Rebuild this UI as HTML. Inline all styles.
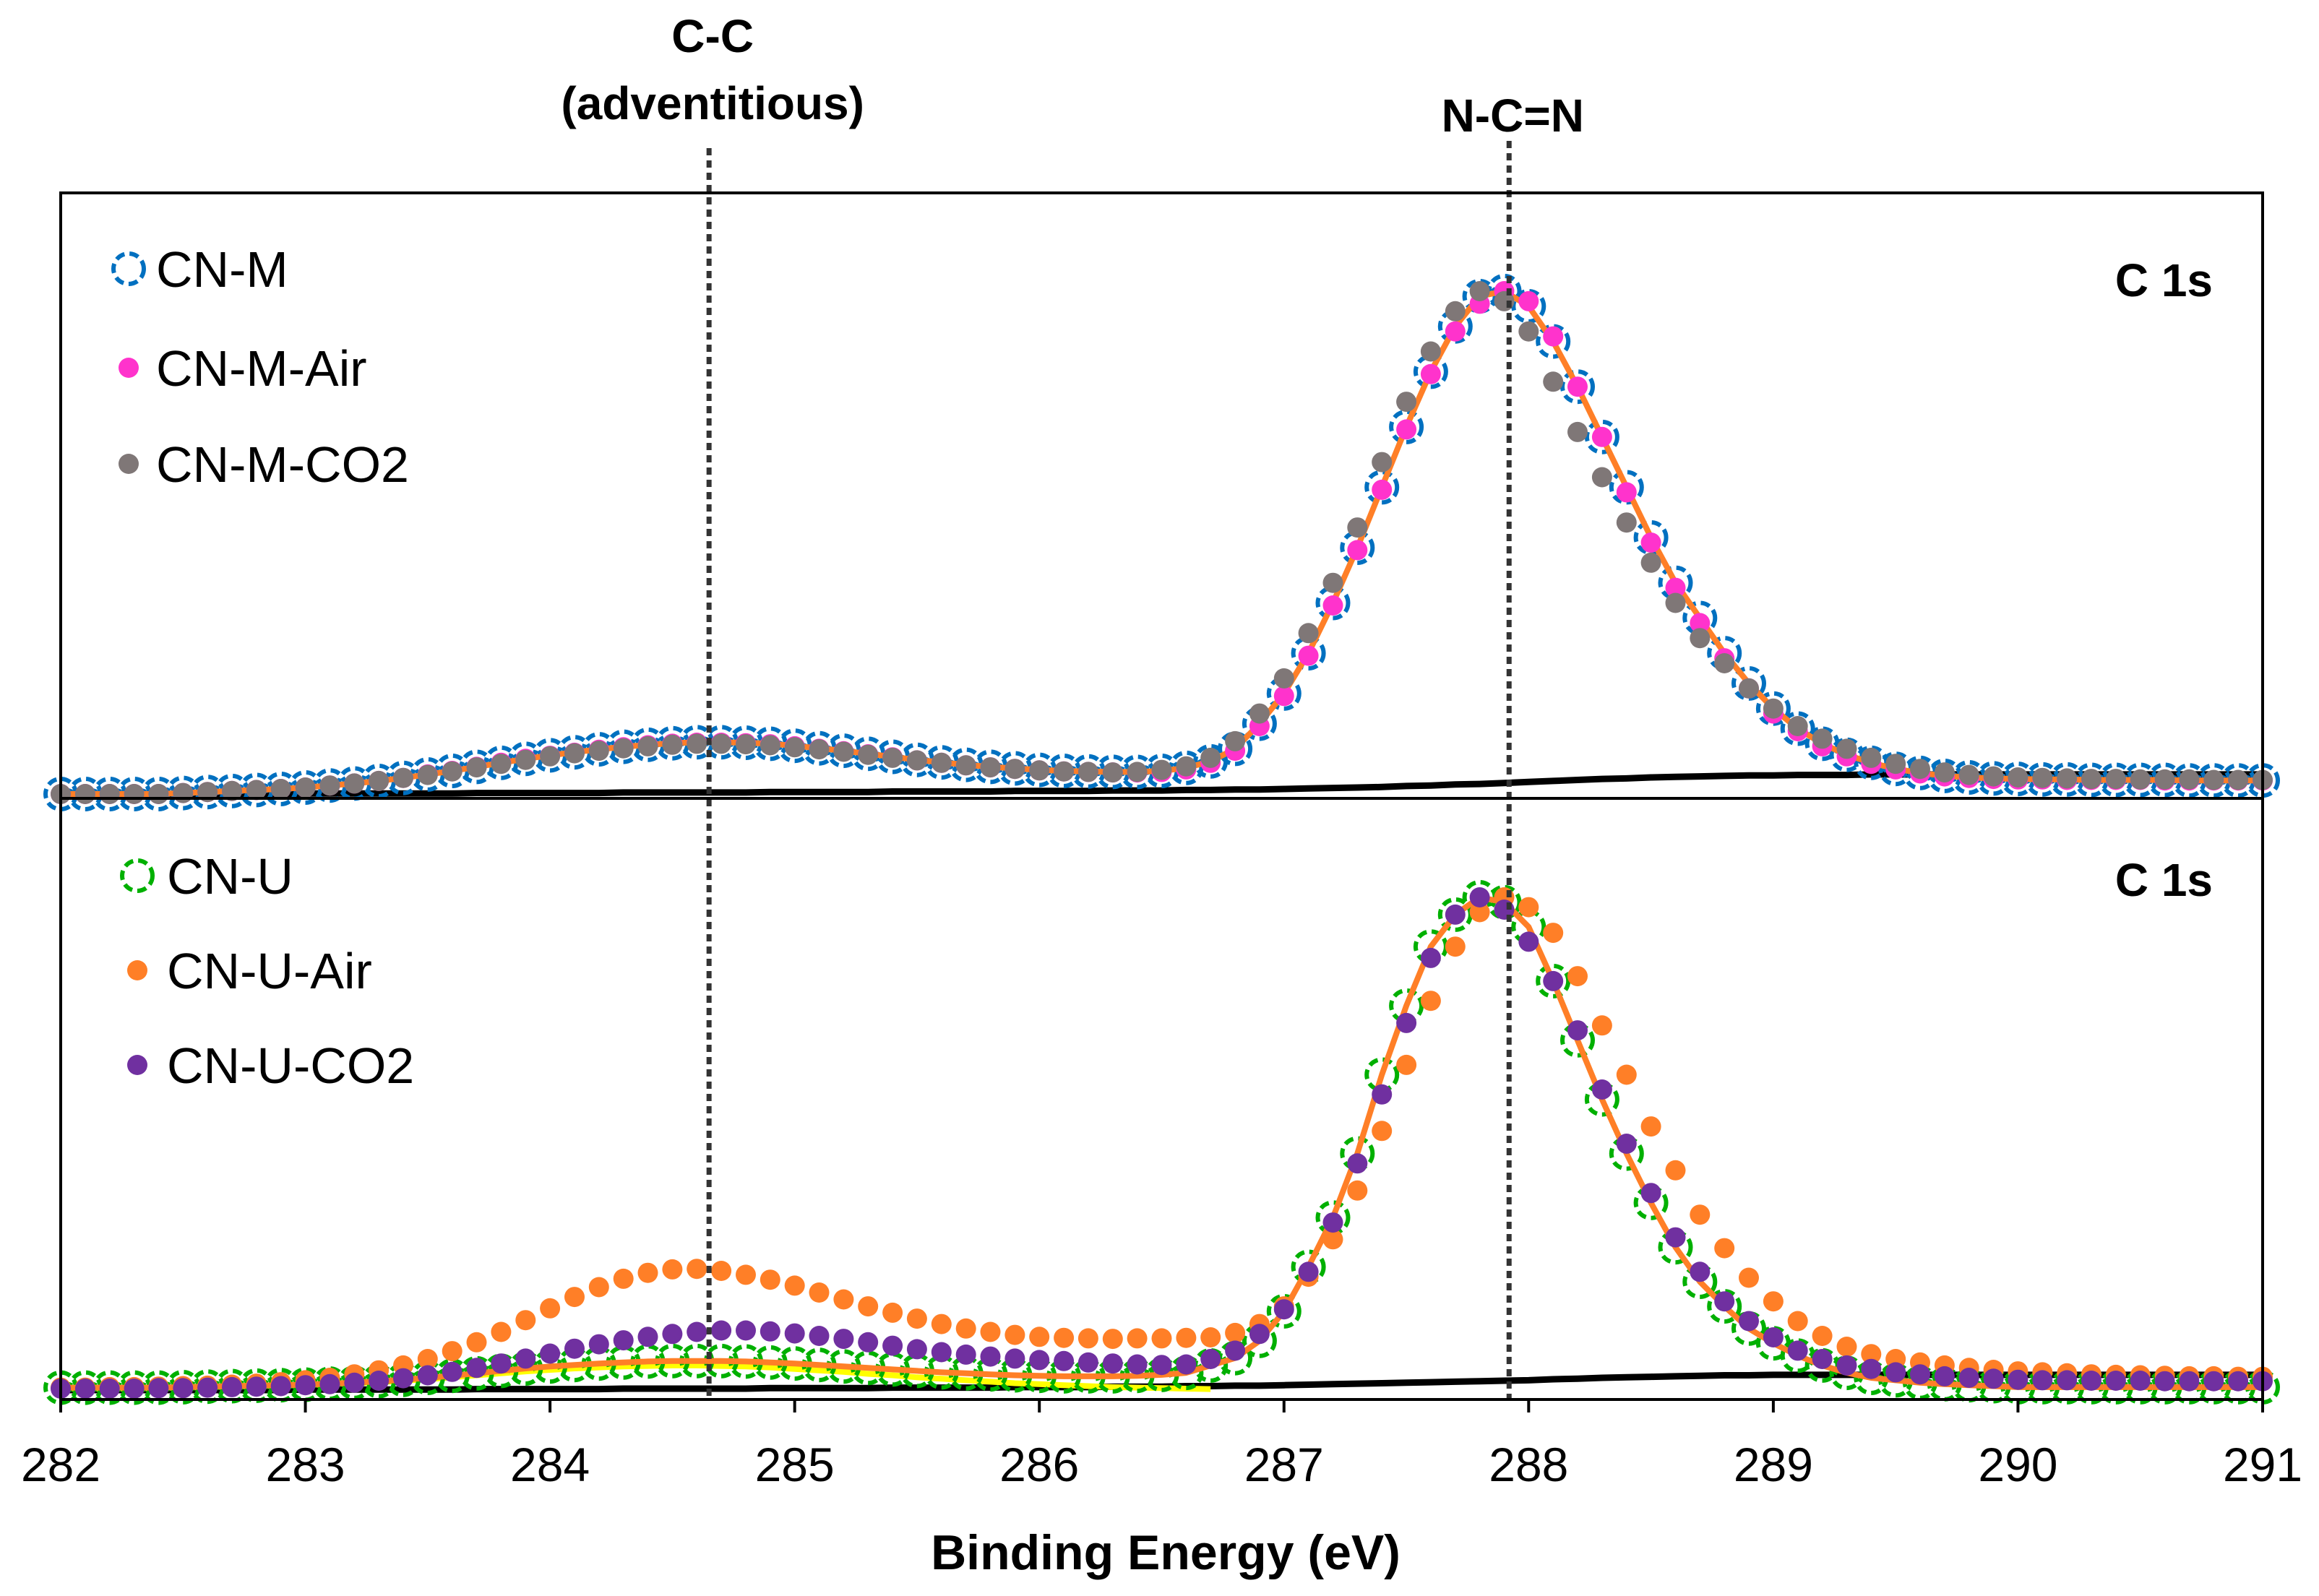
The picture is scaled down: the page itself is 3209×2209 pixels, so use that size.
<!DOCTYPE html>
<html><head><meta charset="utf-8"><style>
html,body{margin:0;padding:0;background:#fff;}
svg{display:block;font-family:"Liberation Sans",Arial,sans-serif;}
</style></head><body>
<svg id="chart" width="3209" height="2209" viewBox="0 0 3209 2209" xmlns="http://www.w3.org/2000/svg">
<g id="marks"></g>
<g id="frame"></g>
</svg>
<script>
// ---- data (binding energy 282.0 .. 291.0 step 0.1 eV, intensity % of peak) ----
const xStart = 282.0;
const xStep = 0.1;
const xTicks = [282,283,284,285,286,287,288,289,290,291];
const refLines = [284.65, 287.92];
const cnM = [0,0,0,0,0,0.2,0.4,0.6,0.8,1.0,
 1.3,1.7,2.1,2.6,3.2,3.9,4.6,5.4,6.2,7.0,
 7.7,8.3,8.9,9.4,9.8,10.1,10.3,10.3,10.2,10.0,
 9.6,9.1,8.6,8.0,7.4,6.8,6.3,5.8,5.4,5.1,
 4.8,4.6,4.5,4.4,4.4,4.6,5.2,6.5,9.0,14,
 20,28,38,49,61,73,84,93,99,100,
 97,90,81,71,61,51,42,35,28,22,
 17,13,10,7.8,6.2,5.0,4.2,3.6,3.3,3.1,
 3.0,2.9,2.9,2.8,2.8,2.8,2.8,2.7,2.7,2.7,2.7];
const cnMAir = [0,0,0,0,0,0.2,0.4,0.6,0.8,1.0,
 1.3,1.7,2.1,2.6,3.2,3.9,4.6,5.4,6.2,7.0,
 7.6,8.2,8.8,9.3,9.7,10.0,10.2,10.2,10.1,9.9,
 9.5,9.0,8.5,7.9,7.3,6.7,6.2,5.7,5.3,5.0,
 4.7,4.5,4.4,4.3,4.3,4.4,4.9,6.2,8.6,13.5,
 19.5,27.5,37.5,48.5,60.5,72.5,83.5,92,97.5,100,
 98,91,81,71,60,50,41,34,27,21,
 16,12.5,9.5,7.5,6,4.9,4.1,3.5,3.2,3.0,
 2.9,2.9,2.8,2.8,2.8,2.8,2.7,2.7,2.7,2.7,2.7];
const cnMCO2 = [0,0,0,0,0,0.2,0.4,0.6,0.8,1.0,
 1.3,1.7,2.1,2.6,3.2,3.8,4.5,5.3,6.0,6.8,
 7.5,8.1,8.6,9.1,9.5,9.8,10.0,10.0,9.9,9.7,
 9.3,8.9,8.4,7.8,7.2,6.7,6.2,5.7,5.3,5.0,
 4.7,4.5,4.4,4.3,4.4,4.8,5.5,7.2,10.5,16,
 23,32,42,53,66,78,88,96,100,98,
 92,82,72,63,54,46,38,31,26,21,
 17,13.5,11,9,7.2,6,5,4.3,3.8,3.5,
 3.3,3.2,3.1,3.0,3.0,2.9,2.9,2.9,2.8,2.8,2.8];
const fitM = cnM.slice();
const bgM = [0,0,0,0,0,0,0,0,0,0,
 0.1,0.1,0.1,0.1,0.1,0.1,0.1,0.2,0.2,0.2,
 0.2,0.2,0.2,0.3,0.3,0.3,0.3,0.3,0.3,0.4,
 0.4,0.4,0.4,0.4,0.5,0.5,0.5,0.5,0.5,0.6,
 0.6,0.6,0.6,0.7,0.7,0.7,0.8,0.8,0.9,0.9,
 1.0,1.1,1.2,1.3,1.4,1.6,1.7,1.9,2.0,2.2,
 2.4,2.6,2.8,3.0,3.1,3.3,3.4,3.5,3.6,3.7,
 3.7,3.8,3.8,3.8,3.9,3.9,3.9,3.9,3.9,3.9,
 3.9,3.9,3.9,3.9,3.9,3.9,3.9,3.9,3.9,3.9,3.9];
const cnU = [0.5,0.5,0.5,0.5,0.5,0.6,0.7,0.8,0.9,1.0,
 1.1,1.3,1.5,1.8,2.1,2.5,2.9,3.4,3.9,4.4,
 4.8,5.1,5.4,5.6,5.8,5.9,5.9,5.9,5.8,5.6,
 5.4,5.1,4.8,4.5,4.2,3.9,3.6,3.4,3.2,3.0,
 2.9,2.8,2.8,2.8,2.9,3.1,3.5,5,6.5,10,
 16,25,35,48,64,78,90,96.5,100,99,
 94,83,71,59,48,38,29,22,17,12.5,
 9.5,7,5,3.5,2.5,2,1.5,1.2,1,0.8,
 0.6,0.6,0.6,0.6,0.6,0.6,0.6,0.6,0.6,0.6,0.6];
const ccU = [0.3,0.3,0.3,0.3,0.4,0.5,0.6,0.7,0.8,0.9,
 1.0,1.2,1.4,1.6,1.9,2.2,2.6,3.0,3.4,3.8,
 4.1,4.4,4.6,4.8,4.9,5.0,5.0,4.9,4.8,4.6,
 4.3,4.0,3.7,3.3,3.0,2.6,2.3,2.0,1.7,1.4,
 1.2,1.0,0.8,0.6,0.5,0.4,0.3,0.2];
const cnUAir = [0.5,0.5,0.6,0.6,0.7,0.8,0.9,1.1,1.3,1.6,
 2.0,2.5,3.2,4.0,5.0,6.3,7.9,9.7,11.8,14.2,
 16.6,18.9,20.9,22.6,23.8,24.5,24.6,24.2,23.4,22.4,
 21.2,19.8,18.4,17.0,15.7,14.5,13.4,12.5,11.8,11.2,
 10.8,10.6,10.5,10.4,10.5,10.5,10.6,10.7,11.6,13.4,
 17,23,30.6,40.5,52.6,66,79,90,97,100,
 98,92.8,84,74,64,53.5,44.6,35.6,28.8,22.8,
 18,14,11,8.8,7.3,6.3,5.6,5,4.5,4.1,
 3.8,3.6,3.4,3.2,3.1,3,2.9,2.8,2.8,2.7,2.7];
const cnUCO2 = [0.3,0.3,0.3,0.3,0.4,0.4,0.5,0.6,0.7,0.8,
 1.0,1.2,1.5,1.9,2.4,3.0,3.7,4.5,5.4,6.4,
 7.4,8.4,9.3,10.1,10.8,11.4,11.8,12.1,12.1,11.9,
 11.5,11.0,10.4,9.7,9.0,8.3,7.7,7.2,6.8,6.4,
 6.1,5.9,5.6,5.4,5.2,5.1,5.2,6.3,8,11.4,
 16.4,24,34,46,60,74.5,87.7,96.5,100,97.5,
 91,83,73,61,50,40,31,24,18,14,
 10.7,8,6.3,5,4.3,3.6,3.2,2.8,2.5,2.3,
 2.1,2,2,1.9,1.9,1.9,1.8,1.8,1.8,1.8,1.8];
const fitU = cnU.slice();
const bgU = [0,0,0,0,0,0,0,0,0,0,
 0.1,0.1,0.1,0.1,0.1,0.1,0.1,0.2,0.2,0.2,
 0.2,0.2,0.2,0.3,0.3,0.3,0.3,0.3,0.3,0.4,
 0.4,0.4,0.4,0.4,0.5,0.5,0.5,0.5,0.5,0.6,
 0.6,0.6,0.6,0.7,0.7,0.7,0.8,0.8,0.9,0.9,
 1.0,1.1,1.2,1.3,1.4,1.5,1.6,1.7,1.8,1.9,
 2.0,2.2,2.3,2.5,2.6,2.7,2.8,2.9,3.0,3.0,
 3.1,3.1,3.1,3.1,3.1,3.1,3.1,3.1,3.1,3.1,
 3.1,3.1,3.1,3.1,3.1,3.1,3.1,3.1,3.1,3.1,3.1];

// ---- geometry ----
const L=84,R=3131,T=267,B=1937,MID=1105;
const xMin=282,xMax=291;
const X=v=>L+(v-xMin)/(xMax-xMin)*(R-L);
const YU=v=>1099-v*6.96;
const YL=v=>1924-v*6.82;
const NS="http://www.w3.org/2000/svg";
const marks=document.getElementById('marks');
const frame=document.getElementById('frame');
function mk(tag,attrs,parent){const e=document.createElementNS(NS,tag);for(const k in attrs)e.setAttribute(k,attrs[k]);parent.appendChild(e);return e;}
function ex(i){return xStart+i*xStep;}

function line(arr,Y,color,w,name){
  const d=arr.map((v,i)=>(i?'L':'M')+X(ex(i)).toFixed(1)+' '+Y(v).toFixed(1)).join(' ');
  const p=mk('path',{d:d,fill:'none',stroke:color,'stroke-width':w,'stroke-linejoin':'round'},marks);
  
  
}
function dots(arr,Y,color,name){
  const g=mk('g',{},marks);
  
  
  arr.forEach((v,i)=>{mk('circle',{cx:X(ex(i)).toFixed(1),cy:Y(v).toFixed(1),r:14,fill:color},g);});
}
function rings(arr,Y,color,name){
  const g=mk('g',{},marks);
  
  
  arr.forEach((v,i)=>{mk('circle',{cx:X(ex(i)).toFixed(1),cy:Y(v).toFixed(1),r:21,fill:'none',stroke:color,'stroke-width':6,'stroke-dasharray':'13 7'},g);});
}
// upper panel
line(bgM,YU,'#000',9,'background-cn-m');
rings(cnM,YU,'#0070c0','series-cn-m');
line(fitM,YU,'#ff7f27',8,'fit-cn-m');
dots(cnMAir,YU,'#ff33cc','series-cn-m-air');
dots(cnMCO2,YU,'#7f7777','series-cn-m-co2');
// lower panel
line(bgU,YL,'#000',9,'background-cn-u');
line(ccU,YL,'#ffff00',8,'component-cc-cn-u');
rings(cnU,YL,'#00b000','series-cn-u');
line(fitU,YL,'#ff7f27',8,'fit-cn-u');
dots(cnUAir,YL,'#ff7f27','series-cn-u-air');
dots(cnUCO2,YL,'#7030a0','series-cn-u-co2');

// reference lines
refLines.forEach((v,i)=>{
  const l=mk('line',{x1:X(v),x2:X(v),y1:i?195:205,y2:1935,stroke:'#333','stroke-width':7,'stroke-dasharray':'10 7'},frame);
  
  
});
// frame
const box=mk('rect',{x:L,y:T,width:R-L,height:B-T,fill:'none',stroke:'#000','stroke-width':4},frame);


const dv=mk('line',{x1:L,x2:R,y1:MID,y2:MID,stroke:'#000','stroke-width':4},frame);


// ticks
xTicks.forEach(t=>{
  const tk=mk('line',{x1:X(t),x2:X(t),y1:B,y2:B+18,stroke:'#000','stroke-width':4},frame);
  
  
  const tx=mk('text',{x:X(t),y:2050,'font-size':66,'text-anchor':'middle',fill:'#000'},frame);
  tx.textContent=t;
  
  
});
function txt(s,x,y,size,weight,anchor,name){
  const t=mk('text',{x:x,y:y,'font-size':size,'font-weight':weight,'text-anchor':anchor,fill:'#000'},frame);
  t.textContent=s;
  
  
}
txt('Binding Energy (eV)',1613,2172,68,'bold','middle','x-axis-title');
txt('C-C',X(284.65)+5,72,64,'bold','middle','label-cc');
txt('(adventitious)',X(284.65)+5,165,64,'bold','middle','label-adventitious');
txt('N-C=N',X(287.92)+5,182,64,'bold','middle','label-ncn');
txt('C 1s',3062,410,64,'bold','end','panel-label-top');
txt('C 1s',3062,1240,64,'bold','end','panel-label-bottom');
// legends
function leg(kind,color,label,mx,tx,y,name){
  const g=mk('g',{},frame);
  
  
  if(kind==='ring')mk('circle',{cx:mx,cy:y,r:21,fill:'none',stroke:color,'stroke-width':6,'stroke-dasharray':'13 7'},g);
  else mk('circle',{cx:mx,cy:y,r:14,fill:color},g);
  const t=mk('text',{x:tx,y:y+25,'font-size':70,fill:'#000'},g);
  t.textContent=label;
}
leg('ring','#0070c0','CN-M',178,216,372,'legend-cn-m');
leg('dot','#ff33cc','CN-M-Air',178,216,509,'legend-cn-m-air');
leg('dot','#7f7777','CN-M-CO2',178,216,642,'legend-cn-m-co2');
leg('ring','#00b000','CN-U',190,231,1212,'legend-cn-u');
leg('dot','#ff7f27','CN-U-Air',190,231,1343,'legend-cn-u-air');
leg('dot','#7030a0','CN-U-CO2',190,231,1474,'legend-cn-u-co2');
</script>
</body></html>
